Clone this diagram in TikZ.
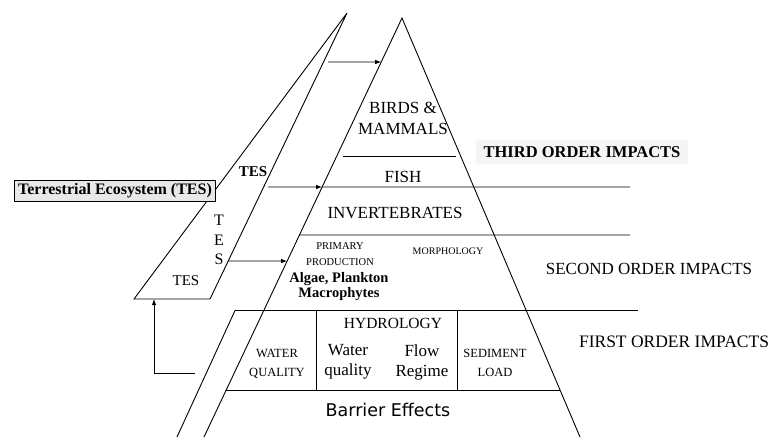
\documentclass[tikz,border=0pt]{standalone}
\usepackage{fontspec}
\setmainfont{Liberation Serif}
\newfontfamily\barfont{DejaVu Sans}
\usetikzlibrary{arrows.meta,calc}
\begin{document}
\begin{tikzpicture}[x=1pt,y=-1pt, line width=0.9pt,
  fs/.style={inner sep=0pt, align=center, font=\fontsize{#1}{#1}\selectfont},
  two/.style 2 args={inner sep=0pt, align=center, font=\fontsize{#1}{#2}\selectfont},
  arr/.style={-{Latex[length=6pt,width=4.5pt]}}]
\useasboundingbox (0,0) rectangle (773,437);

% pyramid
\coordinate (apex) at (402,18);
\coordinate (pbl) at (204,437);
\coordinate (pbr) at (580,437);
\draw (pbl) -- (apex) -- (pbr);

% TES wedge
\coordinate (tapex) at (347,13);
\coordinate (tbl) at (134,299);
\coordinate (tbr) at (210,299);
\draw (tapex) -- (tbl) -- (tbr) -- cycle;

% edge points
\coordinate (L62) at ($(apex)!0.105!(pbl)$);
\coordinate (L156) at ($(apex)!0.3294!(pbl)+(6,0)$);
\coordinate (R156) at ($(apex)!0.3294!(pbr)+(-5,0)$);
\coordinate (L187) at ($(apex)!0.4033!(pbl)$);
\coordinate (L235) at ($(apex)!0.5179!(pbl)$);
\coordinate (L261) at ($(apex)!0.58!(pbl)$);
\coordinate (T261) at ($(tapex)!0.867!(tbr)$);
\coordinate (L390) at ($(apex)!0.8878!(pbl)$);
\coordinate (R390) at ($(apex)!0.8878!(pbr)$);

\coordinate (a1) at (328,62);
\coordinate (a2) at (268,187);
\coordinate (e187) at (630,187);
\coordinate (e235) at (630,235);
\coordinate (p1) at (235,310.5);
\coordinate (p2) at (177,437);
\coordinate (e311) at (638,310.5);
\coordinate (v1t) at (316,310.5);
\coordinate (v1b) at (316,390);
\coordinate (v2t) at (457,310.5);
\coordinate (v2b) at (457,390);
\coordinate (f1) at (195,373);
\coordinate (f2) at (154,373);
\coordinate (f3) at (154,299);

\draw[arr] (a1) -- (L62);
\draw (L156) -- (R156);
\draw[arr] (a2) -- (L187);
\draw (L187) -- (e187);
\draw (L235) -- (e235);
\draw[arr] (T261) -- (L261);
\draw (p1) -- (p2);
\draw (p1) -- (e311);
\draw (v1t) -- (v1b);
\draw (v2t) -- (v2b);
\draw (L390) -- (R390);
\draw[arr] (f1) -- (f2) -- (f3);

% labels
\node[draw, fill=gray!18, inner xsep=4pt, inner ysep=3.5pt, font=\bfseries\fontsize{16}{16}\selectfont] (tesbox) at (115,191) {Terrestrial Ecosystem (TES)};
\node[fs=15, font=\bfseries\fontsize{15}{15}\selectfont] (tes1) at (253,172) {TES};
\node[two={16}{19.5}] (tes2) at (219,240) {T\\E\\S};
\node[fs=15] (tes3) at (186,281) {TES};

\node[two={17}{21}] (birds) at (403,118.5) {BIRDS \&\\MAMMALS};
\node[fs=17] (fish) at (403,177) {FISH};
\node[fs=17] (inv) at (395,213) {INVERTEBRATES};
\node[fill=gray!8, inner xsep=8pt, inner ysep=6pt, font=\bfseries\fontsize{16.5}{16.5}\selectfont] (third) at (582,152) {THIRD ORDER IMPACTS};

\node[two={10.5}{16}] (prim) at (340,254) {PRIMARY\\PRODUCTION};
\node[two={14.5}{15}, font=\bfseries\fontsize{14.5}{15}\selectfont] (algae) at (339,286.5) {Algae, Plankton\\Macrophytes};
\node[fs=10] (morph) at (448,251) {MORPHOLOGY};
\node[fs=17] (second) at (649,269) {SECOND ORDER IMPACTS};

\node[fs=15.5] (hydro) at (393,323) {HYDROLOGY};
\node[two={17}{20}] (wq) at (348,362) {Water\\quality};
\node[two={17}{20}] (flow) at (422,362) {Flow\\Regime};
\node[two={12.5}{19}] (wq2) at (277,363.5) {WATER\\QUALITY};
\node[two={12.5}{19}] (sed) at (495,362.5) {SEDIMENT\\LOAD};
\node[fs=17.5] (first) at (674,342) {FIRST ORDER IMPACTS};

\node[inner sep=0pt, font=\barfont\fontsize{17.5}{17.5}\selectfont] (barrier) at (388,410) {Barrier Effects};
\end{tikzpicture}
\end{document}
